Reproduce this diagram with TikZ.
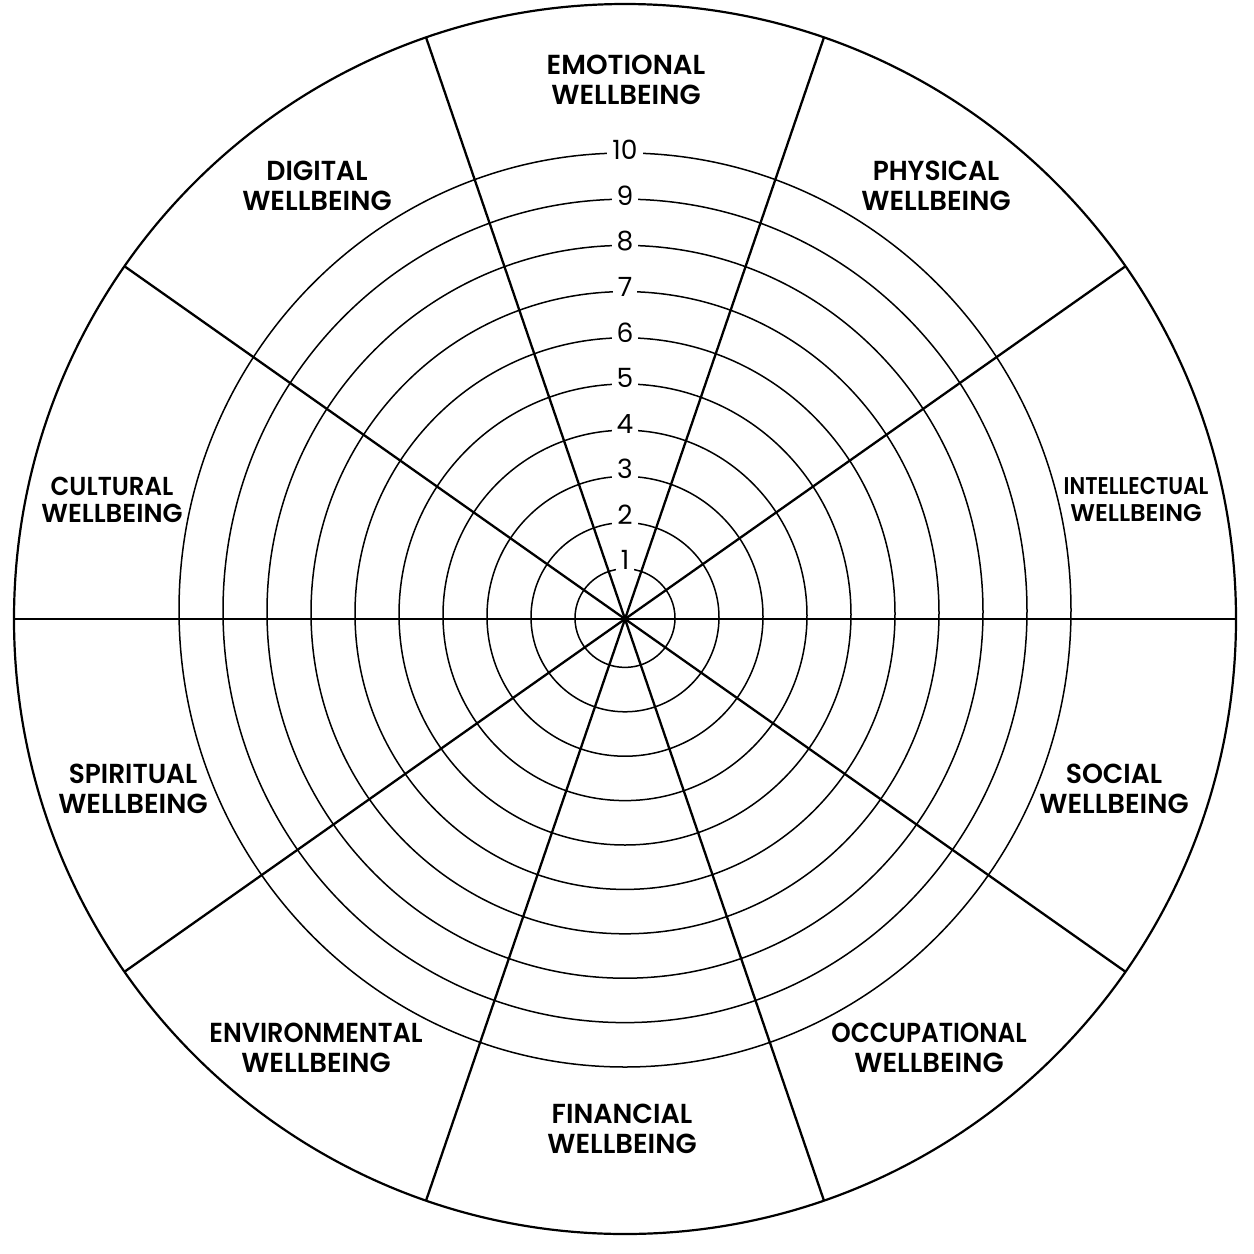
\documentclass[tikz,border=0pt]{standalone}
\usepackage{fontspec}
\usetikzlibrary{calc}
\setmainfont{Poppins}
\newfontfamily\labfont{Poppins SemiBold}
\newcommand{\sqz}[2]{\scalebox{#1}[1]{#2}}
\begin{document}
\begin{tikzpicture}[x=1pt,y=-1pt,
  ring/.style={line width=1.5pt, black},
  spoke/.style={line width=2.3pt, black},
  rim/.style={line width=2.2pt, black},
  num/.style={fill=white, inner xsep=5pt, inner ysep=3pt, font=\fontsize{26.5}{28}\selectfont},
  lab/.style={align=center, inner sep=0pt, font=\labfont\fontsize{27.5}{30}\selectfont},
  labc/.style={align=center, inner sep=0pt, font=\labfont\fontsize{26}{27}\selectfont},
  labi/.style={align=center, inner sep=0pt, font=\labfont\fontsize{24.2}{27}\selectfont}]
\useasboundingbox (0,0) rectangle (1254,1254);
\fill[white] (0,0) rectangle (1254,1254);
\coordinate (c) at (625,619);
% rings
\foreach \k in {1,...,10} {
  \draw[ring] (625,{619-0.9*\k}) ellipse [x radius={6+44*\k}, y radius={4+45.3*\k}];
}
% outer rim
\draw[rim] (c) ellipse [x radius=611, y radius=615];
% spokes
\foreach \a [count=\i] in {0,35,71,109,145,180,215,251,289,325} {
  \coordinate (s\i) at ($(c)+(\a:611 and 615)$);
  \draw[spoke] (c) -- (s\i);
}
% numbers
\foreach \k in {1,...,10} {
  \node[num] (n\k) at (625,{606-45.6*\k}) {\k};
}
% labels
\node[lab] (emo) at (626,80) {EMOTIONAL\\WELLBEING};
\node[lab] (phy) at (936,186) {\sqz{0.96}{PHYSICAL}\\WELLBEING};
\node[labi] (int) at (1136,500) {\sqz{0.88}{INTELLECTUAL}\\WELLBEING};
\node[lab] (soc) at (1114,789) {\sqz{0.97}{SOCIAL}\\WELLBEING};
\node[lab] (occ) at (929,1048) {\sqz{0.9}{OCCUPATIONAL}\\WELLBEING};
\node[lab] (fin) at (622,1129) {\sqz{0.98}{FINANCIAL}\\WELLBEING};
\node[lab] (env) at (316,1048) {\sqz{0.93}{ENVIRONMENTAL}\\WELLBEING};
\node[lab] (spi) at (133,789) {\sqz{0.96}{SPIRITUAL}\\WELLBEING};
\node[labc] (cul) at (112,500) {\sqz{0.94}{CULTURAL}\\WELLBEING};
\node[lab] (dig) at (317,186) {\sqz{0.97}{DIGITAL}\\WELLBEING};
\end{tikzpicture}
\end{document}
